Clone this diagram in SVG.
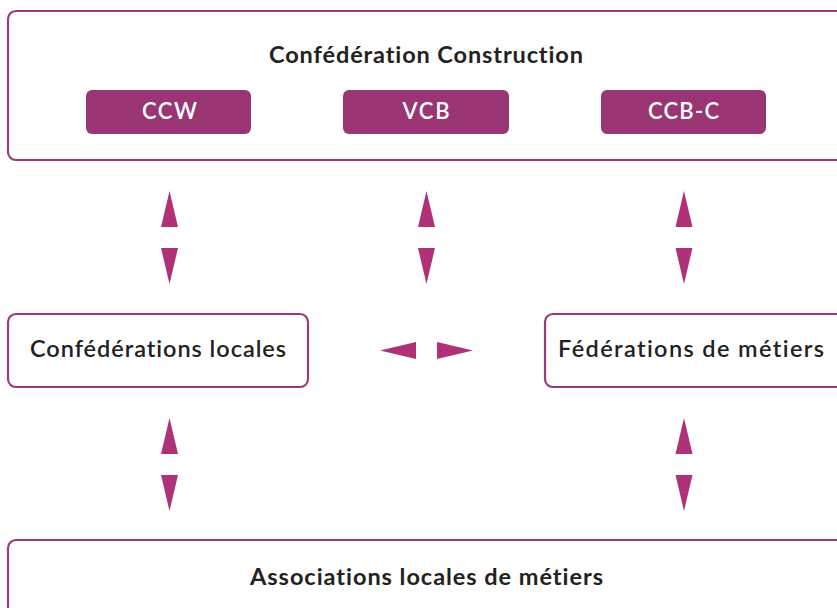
<svg xmlns="http://www.w3.org/2000/svg" width="837" height="608" viewBox="0 0 837 608">
<style>
text{font-variant-ligatures:none;font-feature-settings:"liga" 0,"dlig" 0}
.box{fill:#fff;stroke:#9b3a78;stroke-width:2.2}
.pill{fill:#993572}
.arr{fill:#af3278}
.t{font-family:Lato,"Liberation Sans",sans-serif;font-size:23.5px;fill:#222;text-anchor:middle}
.b{font-weight:700}
.m{font-weight:600}
.w{font-family:Lato,"Liberation Sans",sans-serif;font-size:22px;fill:#fff;text-anchor:middle;font-weight:600}
</style>
<rect width="837" height="608" fill="#fff"/>
<g id="confederation-construction">
<rect class="box" x="8" y="11" width="850" height="149" rx="8"/>
<text class="t b" x="426" y="63" textLength="314" lengthAdjust="spacing">Confédération Construction</text>
</g>
<g id="ccw">
<rect class="pill" x="86" y="90" width="165" height="44" rx="6"/>
<text class="w" x="169.5" y="119" textLength="55" lengthAdjust="spacing">CCW</text>
</g>
<g id="vcb">
<rect class="pill" x="343" y="90" width="166" height="44" rx="6"/>
<text class="w" x="426" y="119" textLength="47" lengthAdjust="spacing">VCB</text>
</g>
<g id="ccb-c">
<rect class="pill" x="601" y="90" width="165" height="44" rx="6"/>
<text class="w" x="683.5" y="119" textLength="71" lengthAdjust="spacing">CCB-C</text>
</g>
<g id="confederations-locales">
<rect class="box" x="8" y="314" width="300" height="73" rx="8"/>
<text class="t m" x="158" y="357" textLength="256" lengthAdjust="spacing">Confédérations locales</text>
</g>
<g id="federations-de-metiers">
<rect class="box" x="545" y="314" width="310" height="73" rx="8"/>
<text class="t m" x="691" y="357" textLength="266" lengthAdjust="spacing">Fédérations de métiers</text>
</g>
<g id="associations-locales">
<rect class="box" x="8" y="540" width="850" height="90" rx="8"/>
<text class="t b" x="426.5" y="585" textLength="353" lengthAdjust="spacing">Associations locales de métiers</text>
</g>
<g id="connectors">
<polygon class="arr" points="169.5,191 161,227 178,227"/>
<polygon class="arr" points="161,248 178,248 169.5,284"/>
<polygon class="arr" points="426.5,191 418,227 435,227"/>
<polygon class="arr" points="418,248 435,248 426.5,284"/>
<polygon class="arr" points="684,191 675.5,227 692.5,227"/>
<polygon class="arr" points="675.5,248 692.5,248 684,284"/>
<polygon class="arr" points="380,350.5 416,342 416,359"/>
<polygon class="arr" points="437,342 437,359 473,350.5"/>
<polygon class="arr" points="169.5,418 161,454 178,454"/>
<polygon class="arr" points="161,475 178,475 169.5,511"/>
<polygon class="arr" points="684,418 675.5,454 692.5,454"/>
<polygon class="arr" points="675.5,475 692.5,475 684,511"/>
</g>
</svg>
